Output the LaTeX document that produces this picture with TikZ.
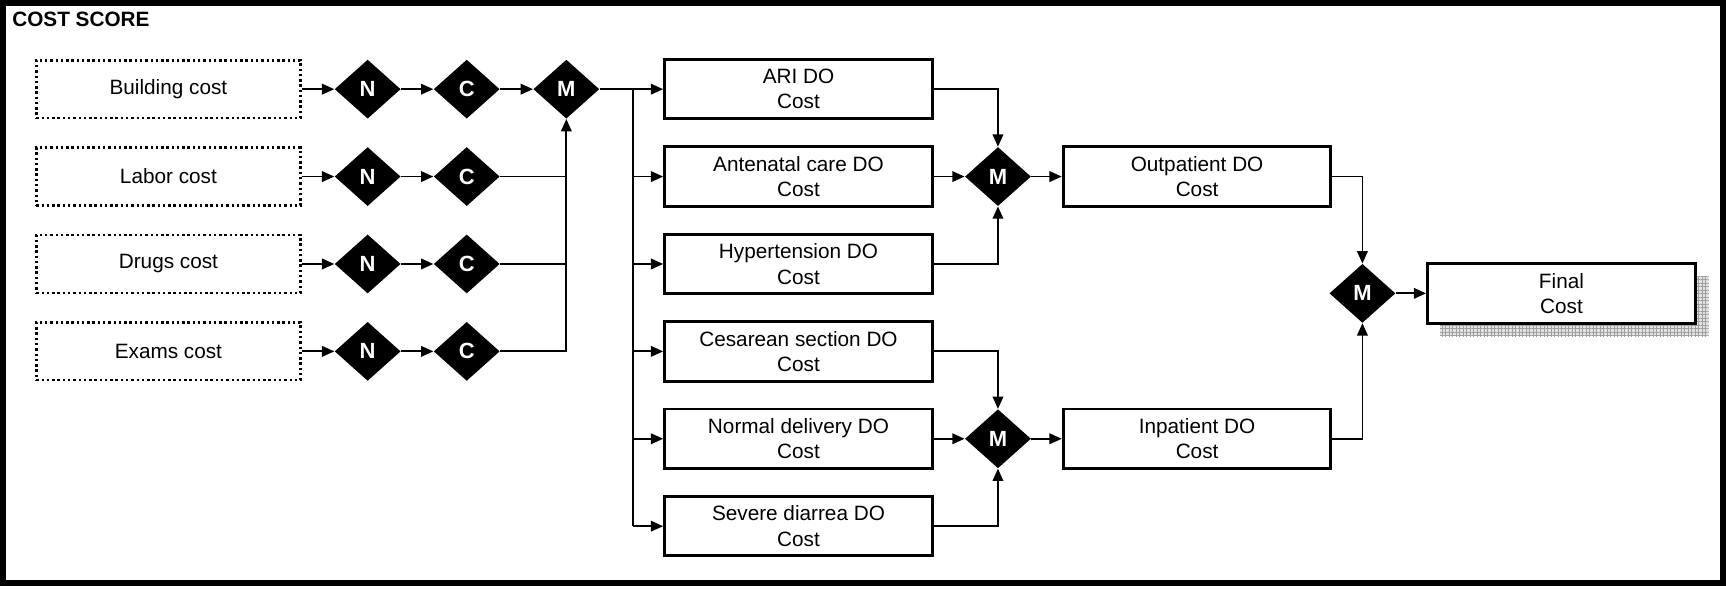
\documentclass[tikz,border=0pt]{standalone}
\usepackage{fontspec}
\setmainfont{Liberation Sans}
\usetikzlibrary{shapes.geometric,arrows.meta,patterns.meta}

\tikzset{
    inbox/.style={draw, line width=1.4pt, dash pattern=on 1.4pt off 1.6pt,
        minimum width=5.28cm, minimum height=1.155cm, align=center},
    box/.style={draw, line width=1.7pt, fill=white,
        minimum width=5.35cm, minimum height=1.19cm, align=center, inner sep=1pt},
    dia/.style={diamond, fill=black, text=white, font=\fontsize{12.5}{14}\selectfont\bfseries,
        minimum width=1.32cm, minimum height=1.18cm, inner sep=0pt},
    link/.style={line width=1.05pt},
    arr/.style={link, -{Triangle[length=7pt,width=6pt]}}
}

\begin{document}
\begin{tikzpicture}[x=0.022cm, y=-0.022cm, font=\fontsize{11.8}{14.4}\selectfont]
        \useasboundingbox (0,0) rectangle (1568,535);
        % 外框
        \draw[line width=3.4pt] (2.7,2.7) rectangle (1565.3,529.5);
        \node[anchor=base west, font=\fontsize{11.8}{14.4}\selectfont\bfseries, inner sep=0pt] (title) at (10.9,24.5) {COST SCORE};
        % 输入
        \node[inbox] (B1) at (153,81) {Building cost};
        \node[inbox] (B2) at (153,160.4) {Labor cost};
        \node[inbox] (B3) at (153,239.8) {Drugs cost};
        \node[inbox] (B4) at (153,319.2) {Exams cost};
        \node[dia] (N1) at (334,81) {N};
        \node[dia] (N2) at (334,160.4) {N};
        \node[dia] (N3) at (334,239.8) {N};
        \node[dia] (N4) at (334,319.2) {N};
        \node[dia] (C1) at (424,81) {C};
        \node[dia] (C2) at (424,160.4) {C};
        \node[dia] (C3) at (424,239.8) {C};
        \node[dia] (C4) at (424,319.2) {C};
        \node[dia] (M0) at (514.5,81) {M};
        \coordinate (T) at (575,81);
        % 各科室
        \node[box] (D1) at (725.4,81) {ARI DO\\Cost};
        \node[box] (D2) at (725.4,160.4) {Antenatal care DO\\Cost};
        \node[box] (D3) at (725.4,239.8) {Hypertension DO\\Cost};
        \node[box] (D4) at (725.4,319.2) {Cesarean section DO\\Cost};
        \node[box] (D5) at (725.4,398.6) {Normal delivery DO\\Cost};
        \node[box] (D6) at (725.4,478) {Severe diarrea DO\\Cost};
        \node[dia] (M1) at (906.6,160.4) {M};
        \node[dia] (M2) at (906.6,398.6) {M};
        \node[box] (O) at (1087.5,160.4) {Outpatient DO\\Cost};
        \node[box] (I) at (1087.5,398.6) {Inpatient DO\\Cost};
        \node[dia] (M3) at (1237.7,266.5) {M};
        % 最终
        \coordinate (P) at (1418.5,266.5);
        \path[preaction={fill=gray!22}, pattern={Hatch[distance=2pt,line width=0.35pt]}, pattern color=gray!75]
            ([shift={(11.8,11.8)}]P) +(-122,-27) rectangle +(122,27);
        \node[box] (F) at (P) {Final\\Cost};
        % 连线
        \draw[arr] (B1) -- (N1);
        \draw[arr] (B2) -- (N2);
        \draw[arr] (B3) -- (N3);
        \draw[arr] (B4) -- (N4);
        \draw[arr] (N1) -- (C1);
        \draw[arr] (N2) -- (C2);
        \draw[arr] (N3) -- (C3);
        \draw[arr] (N4) -- (C4);
        \draw[arr] (C1) -- (M0);
        \draw[link] (C2.east) -- (C2.east -| M0.south);
        \draw[link] (C3.east) -- (C3.east -| M0.south);
        \draw[arr] (C4.east) -| (M0.south);
        \draw[link] (M0.east) -- (T) -- (T |- D6.west);
        \draw[arr] (T) -- (D1.west);
        \draw[arr] (T |- D2.west) -- (D2.west);
        \draw[arr] (T |- D3.west) -- (D3.west);
        \draw[arr] (T |- D4.west) -- (D4.west);
        \draw[arr] (T |- D5.west) -- (D5.west);
        \draw[arr] (T |- D6.west) -- (D6.west);
        \draw[arr] (D1.east) -| (M1.north);
        \draw[arr] (D2) -- (M1);
        \draw[arr] (D3.east) -| (M1.south);
        \draw[arr] (D4.east) -| (M2.north);
        \draw[arr] (D5) -- (M2);
        \draw[arr] (D6.east) -| (M2.south);
        \draw[arr] (M1) -- (O);
        \draw[arr] (M2) -- (I);
        \draw[arr] (O.east) -| (M3.north);
        \draw[arr] (I.east) -| (M3.south);
        \draw[arr] (M3) -- (F);
    \end{tikzpicture}
\end{document}
